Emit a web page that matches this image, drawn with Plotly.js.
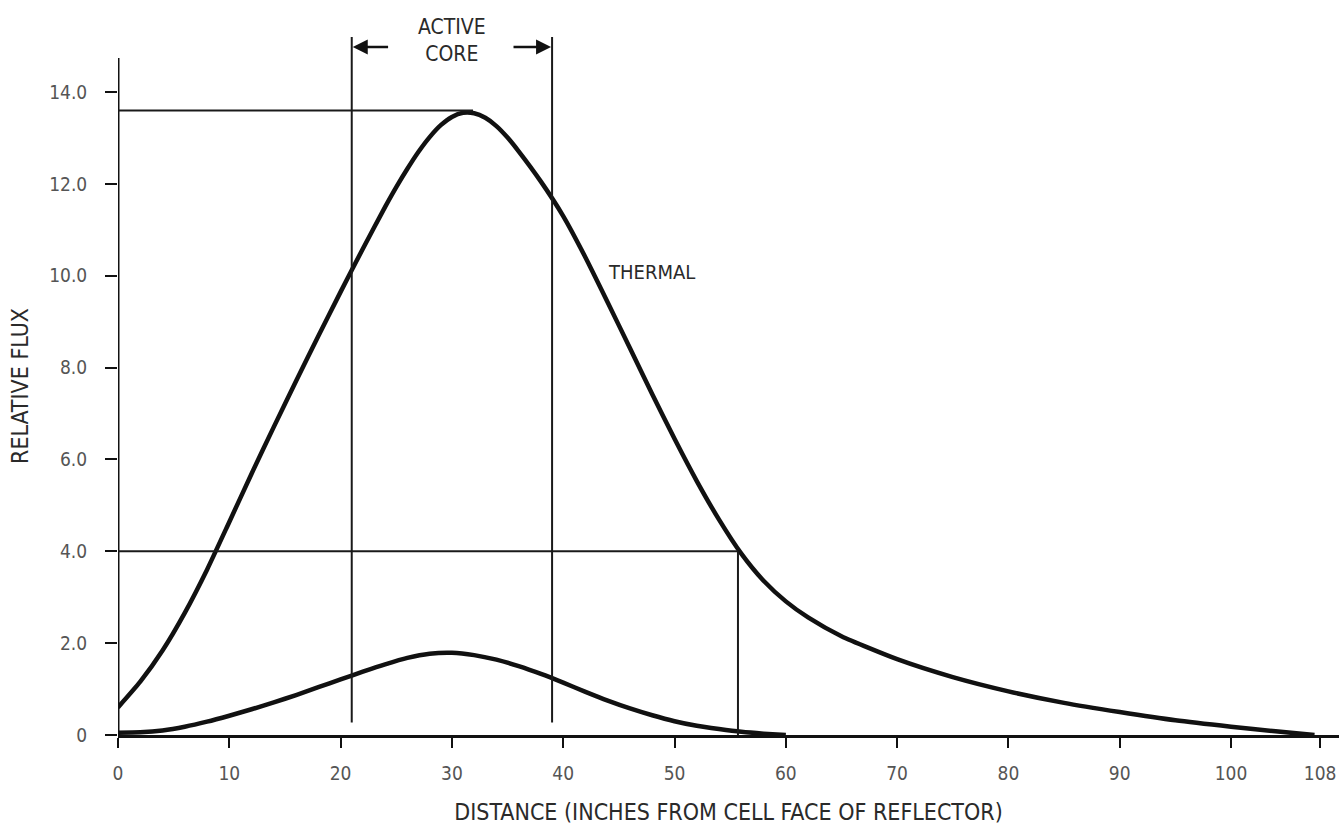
<!DOCTYPE html>
<html>
<head>
<meta charset="utf-8">
<script src="https://cdn.plot.ly/plotly-3.0.1.min.js"></script>
<style>
  html, body { margin: 0; padding: 0; background: #ffffff; }
  #chart { width: 1339px; height: 829px; }
</style>
</head>
<body>
<div id="chart"></div>
<script>
// ---- data ----
const thermalX = [0, 2, 4, 6, 8, 10, 12, 14, 16, 18, 20, 22, 24, 25, 26, 27, 28, 29, 30, 31, 32, 33, 34, 35, 36, 38, 40, 42, 44, 46, 48, 50, 52, 54, 56, 58, 60, 62, 65, 70, 75, 80, 85, 90, 95, 100, 104, 107.5];
const thermalY = [0.6, 1.16, 1.84, 2.66, 3.6, 4.64, 5.69, 6.71, 7.71, 8.69, 9.65, 10.59, 11.5, 11.93, 12.33, 12.7, 13.02, 13.28, 13.46, 13.55, 13.54, 13.44, 13.26, 13.01, 12.71, 12.05, 11.3, 10.4, 9.42, 8.42, 7.42, 6.45, 5.53, 4.69, 3.95, 3.36, 2.91, 2.56, 2.15, 1.65, 1.26, 0.95, 0.7, 0.5, 0.32, 0.18, 0.08, 0.0];

const lowerX = [0, 2, 4, 6, 8, 10, 12, 14, 16, 18, 20, 22, 24, 26, 28, 30, 32, 34, 36, 38, 40, 42, 44, 46, 48, 50, 52, 54, 56, 58, 60];
const lowerY = [0.05, 0.06, 0.1, 0.18, 0.29, 0.42, 0.56, 0.71, 0.87, 1.04, 1.21, 1.38, 1.54, 1.68, 1.77, 1.79, 1.74, 1.64, 1.5, 1.33, 1.14, 0.94, 0.75, 0.58, 0.43, 0.3, 0.2, 0.13, 0.07, 0.03, 0.0];

const xTickVals = [0, 10, 20, 30, 40, 50, 60, 70, 80, 90, 100, 108];
const xTickText = ["0", "10", "20", "30", "40", "50", "60", "70", "80", "90", "100", "108"];
const yTickVals = [0, 2, 4, 6, 8, 10, 12, 14];
const yTickText = ["0", "2.0", "4.0", "6.0", "8.0", "10.0", "12.0", "14.0"];

// reference lines (data units)
const coreEdges = [21, 39];          // active core boundaries
const coreLineBottom = 0.27;
const coreLineTop = 15.2;
const peakLevel = 13.6, peakX = 31.9;
const level4 = 4.0, level4X = 55.7;
const yAxisTop = 14.74;
const arrowY = 14.98;
const arrowTails = [24.4, 35.4];

const labelFont = "DejaVu Sans Condensed, Liberation Sans Narrow, Arial Narrow, sans-serif";

const traces = [
  { x: thermalX, y: thermalY, type: "scatter", mode: "lines", name: "Thermal",
    line: { color: "#111111", width: 4.5, shape: "spline", smoothing: 0.6 }, hoverinfo: "x+y" },
  { x: lowerX, y: lowerY, type: "scatter", mode: "lines", name: "Lower",
    line: { color: "#111111", width: 4.5, shape: "spline", smoothing: 0.6 }, hoverinfo: "x+y" }
];

const thin = { color: "#1a1a1a", width: 2 };
const shapes = [
  // y axis line
  { type: "line", xref: "x", yref: "y", x0: 0, x1: 0, y0: 0, y1: yAxisTop, line: { color: "#111111", width: 3 } },
  // active core boundaries
  ...coreEdges.map(cx => ({ type: "line", xref: "x", yref: "y", x0: cx, x1: cx, y0: coreLineBottom, y1: coreLineTop, line: thin })),
  // peak level line
  { type: "line", xref: "x", yref: "y", x0: 0, x1: peakX, y0: peakLevel, y1: peakLevel, line: thin },
  // 4.0 level line and its drop
  { type: "line", xref: "x", yref: "y", x0: 0, x1: level4X, y0: level4, y1: level4, line: thin },
  { type: "line", xref: "x", yref: "y", x0: level4X, x1: level4X, y0: 0, y1: level4, line: thin }
];

const annotations = [
  { xref: "x", yref: "y", x: coreEdges[0], y: arrowY, axref: "x", ayref: "y", ax: arrowTails[0], ay: arrowY,
    text: "", showarrow: true, arrowhead: 2, arrowsize: 1.2, arrowwidth: 2.5, arrowcolor: "#111111", standoff: 1 },
  { xref: "x", yref: "y", x: coreEdges[1], y: arrowY, axref: "x", ayref: "y", ax: arrowTails[1], ay: arrowY,
    text: "", showarrow: true, arrowhead: 2, arrowsize: 1.2, arrowwidth: 2.5, arrowcolor: "#111111", standoff: 1 },
  { xref: "x", yref: "y", x: 30.0, y: 15.13, text: "ACTIVE<br>CORE", showarrow: false,
    font: { family: labelFont, size: 21, color: "#2a2a2a" }, align: "center" },
  { xref: "x", yref: "y", x: 43.8, y: 10.08, xanchor: "left", text: "THERMAL", showarrow: false,
    font: { family: labelFont, size: 20, color: "#2a2a2a" } }
];

const layout = {
  width: 1339, height: 829,
  margin: { l: 118, r: 0, t: 37, b: 94, pad: 0 },
  paper_bgcolor: "#ffffff", plot_bgcolor: "#ffffff",
  showlegend: false,
  xaxis: {
    range: [0, 109.7], tickmode: "array", tickvals: xTickVals, ticktext: xTickText,
    showgrid: false, zeroline: false, showline: true, linecolor: "#111111", linewidth: 3,
    ticks: "outside", ticklen: 10, tickwidth: 2, tickcolor: "#111111", ticklabelstandoff: 9,
    tickfont: { family: labelFont, size: 19, color: "#555555" },
    title: { text: "DISTANCE (INCHES FROM CELL FACE OF REFLECTOR)", standoff: 22,
      font: { family: labelFont, size: 23, color: "#2a2a2a" } }
  },
  yaxis: {
    range: [0, 15.2], tickmode: "array", tickvals: yTickVals, ticktext: yTickText,
    showgrid: false, zeroline: false, showline: false,
    ticks: "outside", ticklen: 12, tickwidth: 2, tickcolor: "#111111", ticklabelstandoff: 14,
    tickfont: { family: labelFont, size: 19, color: "#555555" },
    title: { text: "RELATIVE FLUX", standoff: 14,
      font: { family: labelFont, size: 23, color: "#2a2a2a" } }
  },
  shapes: shapes,
  annotations: annotations
};

Plotly.newPlot("chart", traces, layout, { displayModeBar: false, staticPlot: true });
</script>
</body>
</html>
